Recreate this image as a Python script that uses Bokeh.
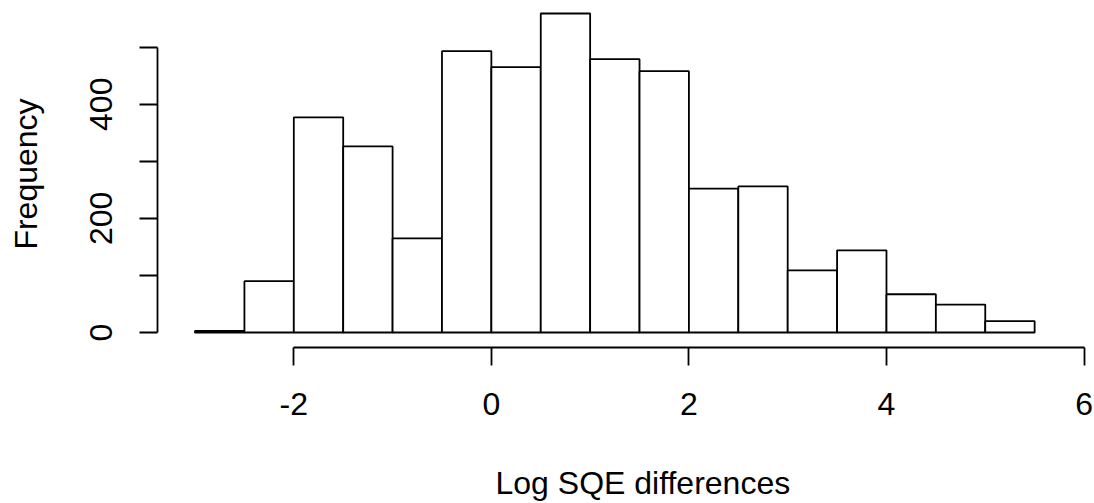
from bokeh.plotting import figure
from bokeh.models import Range1d, LinearAxis, FixedTicker, Title
from bokeh.embed import file_html
from bokeh.resources import INLINE

# ---- data ----
bin_left = [-3.0, -2.5, -2.0, -1.5, -1.0, -0.5, 0.0, 0.5, 1.0, 1.5, 2.0, 2.5, 3.0, 3.5, 4.0, 4.5, 5.0]
bin_width = 0.5
counts = [3, 90, 377, 326, 165, 493, 465, 559, 479, 458, 252, 256, 109, 144, 67, 49, 20]

x_ticks = [-2, 0, 2, 4, 6]
x_tick_labels = ["-2", "0", "2", "4", "6"]
y_ticks = [0, 100, 200, 300, 400, 500]
y_tick_labels = ["0", "", "200", "", "400", ""]

x_title = "Log SQE differences"
y_title = "Frequency"

FONT = "Liberation Sans"
FS = "32px"

p = figure(width=1094, height=503, output_backend="svg", toolbar_location=None,
           x_axis_type=None, y_axis_type=None,
           x_range=Range1d(-3.38, 6.106), y_range=Range1d(-26.3, 581.8),
           min_border_left=157, min_border_right=0, min_border_top=0, min_border_bottom=156)
p.outline_line_color = None
p.xgrid.visible = False
p.ygrid.visible = False
p.background_fill_color = "white"
p.border_fill_color = "white"

bin_right = [b + bin_width for b in bin_left]
p.quad(left=bin_left, right=bin_right, bottom=0, top=counts,
       fill_color="white", line_color="black", line_width=1.8)

def style_axis(ax):
    ax.axis_line_color = "black"
    ax.axis_line_width = 1.8
    ax.major_tick_line_color = "black"
    ax.major_tick_line_width = 1.8
    ax.minor_tick_line_color = None
    ax.major_tick_in = 0
    ax.major_label_text_font = FONT
    ax.major_label_text_font_size = FS
    ax.major_label_text_color = "black"
    ax.axis_label_text_font = FONT
    ax.axis_label_text_font_size = FS
    ax.axis_label_text_font_style = "normal"
    ax.axis_label_text_color = "black"

xaxis = LinearAxis(ticker=FixedTicker(ticks=x_ticks), bounds=(x_ticks[0], x_ticks[-1]),
                   major_label_overrides={t: l for t, l in zip(x_ticks, x_tick_labels)})
style_axis(xaxis)
xaxis.major_tick_out = 18
xaxis.major_label_standoff = 27
# spacer between tick labels and the x title
xaxis.axis_label = " "
xaxis.axis_label_text_font_size = "1px"
xaxis.axis_label_standoff = 41
p.add_layout(xaxis, "below")

yaxis = LinearAxis(ticker=FixedTicker(ticks=y_ticks), bounds=(y_ticks[0], y_ticks[-1]),
                   major_label_overrides={t: l for t, l in zip(y_ticks, y_tick_labels)},
                   axis_label=y_title)
style_axis(yaxis)
yaxis.major_tick_out = 18
yaxis.major_label_standoff = 27
yaxis.major_label_orientation = "vertical"
yaxis.axis_label_standoff = 44
p.add_layout(yaxis, "left")

xtitle = Title(text=x_title, align="left", offset=338, standoff=0,
               text_font=FONT, text_font_size=FS, text_font_style="normal", text_color="black")
p.add_layout(xtitle, "below")

open("out.html", "w").write(file_html(p, INLINE))
